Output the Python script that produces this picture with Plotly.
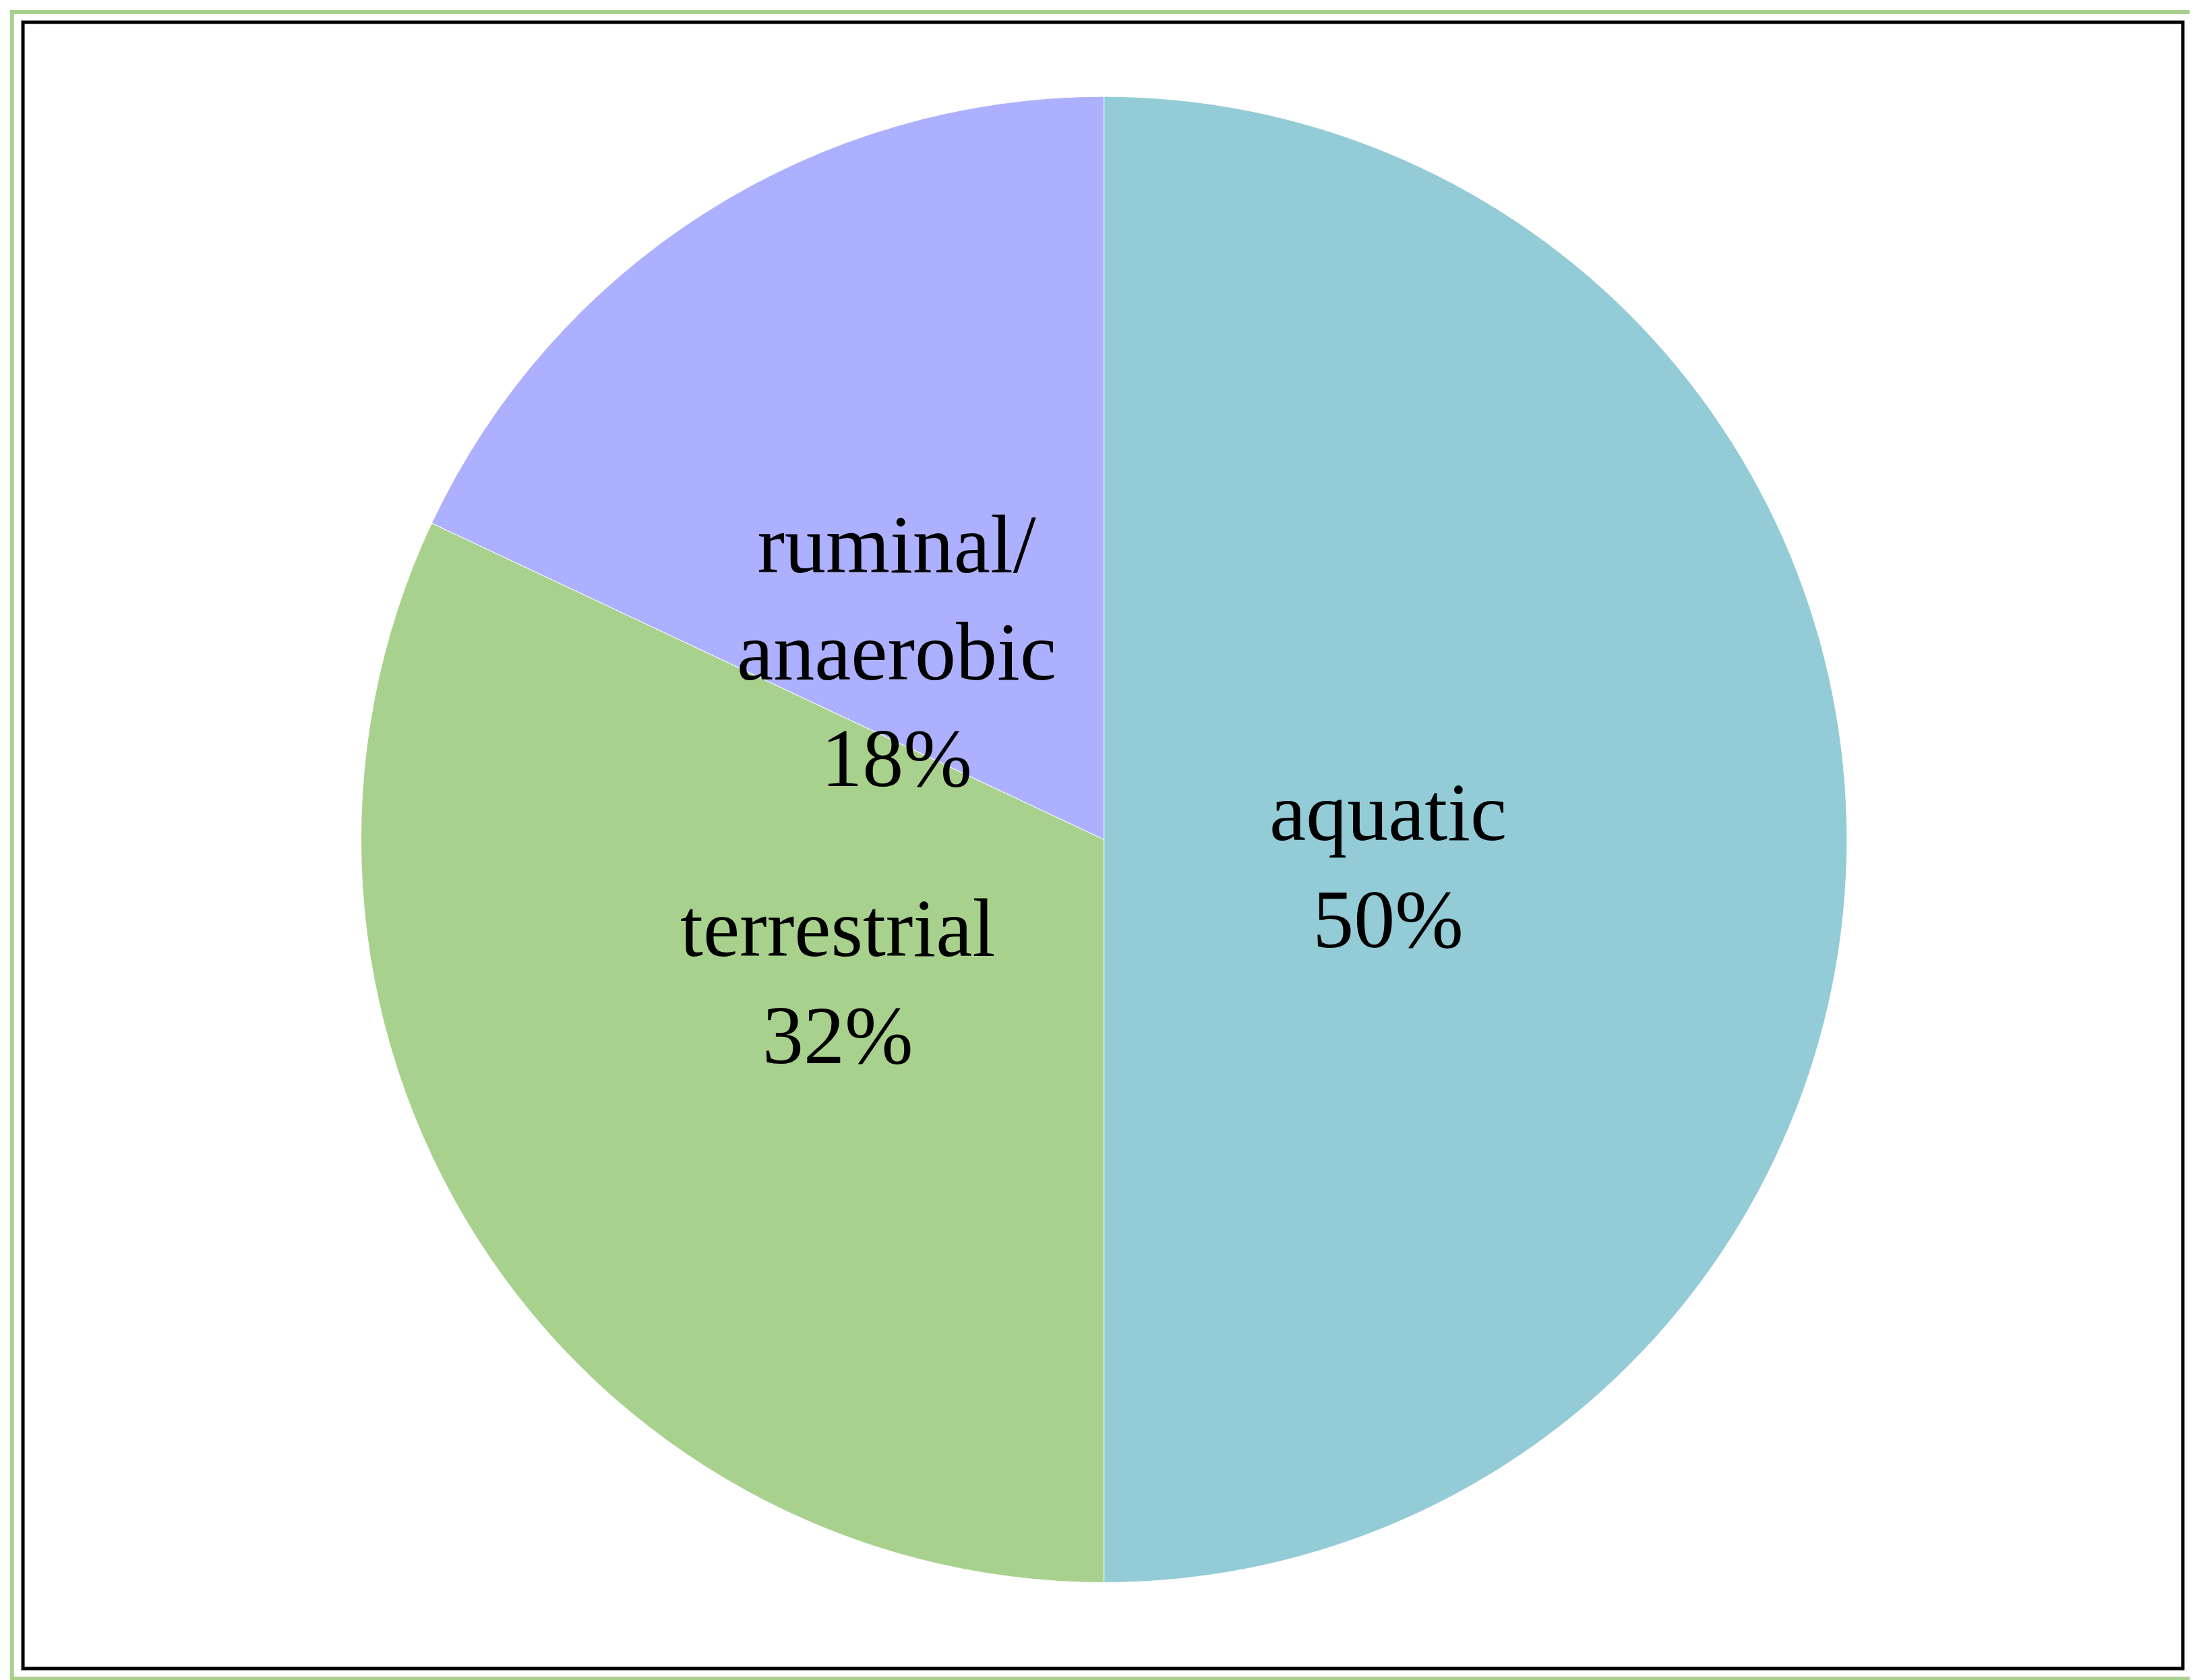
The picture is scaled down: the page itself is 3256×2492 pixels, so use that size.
import plotly.graph_objects as go

labels = ["aquatic", "terrestrial", "ruminal/<br>anaerobic"]
values = [50, 32, 18]
colors = ["#93CCD7", "#A9D18E", "#ADB0FE"]
label_pos = [(0.630, 0.488), (0.379, 0.419), (0.406, 0.707)]

total = sum(values)
font = dict(family="Liberation Serif, DejaVu Serif, serif", size=122, color="black")

fig = go.Figure(go.Pie(
    labels=labels, values=values, sort=False, direction="clockwise", rotation=0,
    marker=dict(colors=colors, line=dict(color="white", width=1)),
    textinfo="none",
    domain=dict(x=[0.162, 0.839], y=[0.06, 0.947]),
    showlegend=False, hoverinfo="skip",
))
annotations = [
    dict(x=px, y=py, xref="paper", yref="paper", showarrow=False,
         text=f"{lab}<br>{round(100*v/total)}%", font=font, align="center")
    for lab, v, (px, py) in zip(labels, values, label_pos)
]
fig.update_layout(
    width=3256, height=2492, margin=dict(l=0, r=0, t=0, b=0),
    paper_bgcolor="white", annotations=annotations,
    shapes=[
        dict(type="rect", xref="paper", yref="paper", x0=0.003, x1=0.997, y0=0.004, y1=0.996,
             line=dict(color="#A9D18E", width=6)),
        dict(type="rect", xref="paper", yref="paper", x0=0.008, x1=0.992, y0=0.01, y1=0.99,
             line=dict(color="black", width=5)),
    ],
)
fig.write_html("out.html")
